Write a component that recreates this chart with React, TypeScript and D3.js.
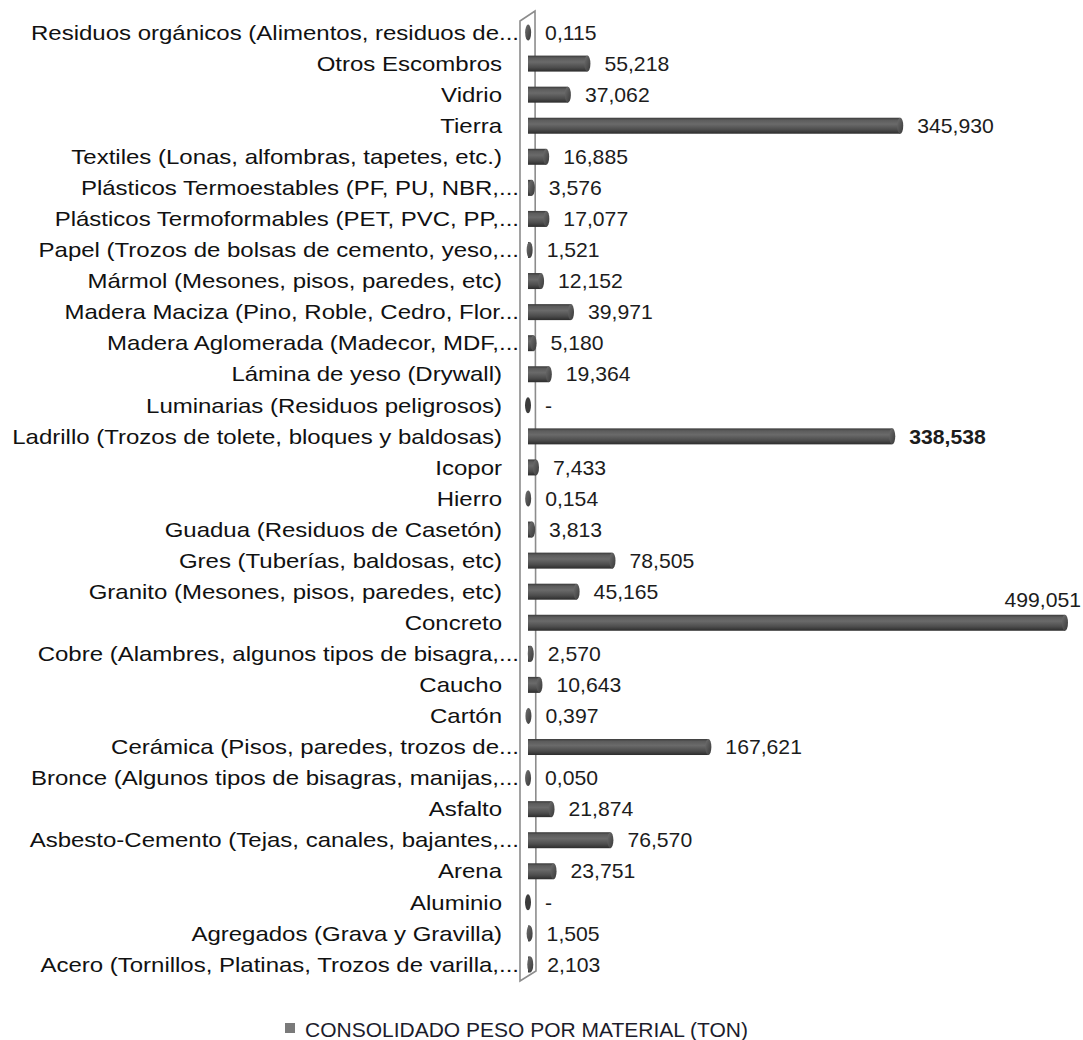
import * as d3 from "d3";

const categories = [
  "Residuos orgánicos (Alimentos, residuos de...",
  "Otros Escombros",
  "Vidrio",
  "Tierra",
  "Textiles (Lonas, alfombras, tapetes, etc.)",
  "Plásticos Termoestables (PF, PU, NBR,...",
  "Plásticos Termoformables (PET, PVC, PP,...",
  "Papel (Trozos de bolsas de cemento, yeso,...",
  "Mármol (Mesones, pisos, paredes, etc)",
  "Madera Maciza (Pino, Roble, Cedro, Flor...",
  "Madera Aglomerada (Madecor, MDF,...",
  "Lámina de yeso (Drywall)",
  "Luminarias (Residuos peligrosos)",
  "Ladrillo (Trozos de tolete, bloques y baldosas)",
  "Icopor",
  "Hierro",
  "Guadua (Residuos de Casetón)",
  "Gres (Tuberías, baldosas, etc)",
  "Granito (Mesones, pisos, paredes, etc)",
  "Concreto",
  "Cobre (Alambres, algunos tipos de bisagra,...",
  "Caucho",
  "Cartón",
  "Cerámica (Pisos, paredes, trozos de...",
  "Bronce (Algunos tipos de bisagras, manijas,...",
  "Asfalto",
  "Asbesto-Cemento (Tejas, canales, bajantes,...",
  "Arena",
  "Aluminio",
  "Agregados (Grava y Gravilla)",
  "Acero (Tornillos, Platinas, Trozos de varilla,...",
];

const values = [
  0.115, 55.218, 37.062, 345.93, 16.885, 3.576, 17.077, 1.521, 12.152, 39.971,
  5.18, 19.364, 0, 338.538, 7.433, 0.154, 3.813, 78.505, 45.165, 499.051, 2.57,
  10.643, 0.397, 167.621, 0.05, 21.874, 76.57, 23.751, 0, 1.505, 2.103,
];

const boldLabels = ["Ladrillo (Trozos de tolete, bloques y baldosas)"];
const seriesName = "CONSOLIDADO PESO POR MATERIAL (TON)";

const W = 1083;
const H = 1040;
// the source picture is stretched sideways, labels more than numbers
const LABEL_SX = 1.2;
const VALUE_SX = 1.06;
const FONT = "Arial, 'Liberation Sans', sans-serif";

const fmt = (v: number) =>
  v === 0
    ? "-"
    : d3.format(",.3f")(v).replace(".", "#").replace(/,/g, ".").replace("#", ",");

export default function App() {
  const y = d3
    .scaleBand<string>()
    .domain(categories)
    .range([17, 980])
    .paddingInner(0);
  const x = d3.scaleLinear().domain([0, 500]).range([528, 1066]);

  const barH = 16;
  const capRx = 3;

  return (
    <svg
      width={W}
      height={H}
      style={{ position: "absolute", left: 0, top: 0, background: "#fff" }}
      fontFamily={FONT}
    >
      <defs>
        <linearGradient id="cyl" x1="0" y1="0" x2="0" y2="1">
          <stop offset="0%" stopColor="#3a3a3a" />
          <stop offset="15%" stopColor="#5c5c5c" />
          <stop offset="40%" stopColor="#6a6a6a" />
          <stop offset="75%" stopColor="#4c4c4c" />
          <stop offset="100%" stopColor="#2c2c2c" />
        </linearGradient>
        <linearGradient id="cap" x1="0" y1="0" x2="1" y2="1">
          <stop offset="0%" stopColor="#707070" />
          <stop offset="100%" stopColor="#383838" />
        </linearGradient>
      </defs>

      {/* axis wall */}
      <polygon
        points="520,21 535,11 536,971 520,981"
        fill="#fff"
        stroke="#8c8c8c"
        strokeWidth={1.6}
      />

      {categories.map((c, i) => {
        const v = values[i];
        const cy = (y(c) as number) + y.bandwidth() / 2;
        const x0 = x(0);
        const x1 = x(v);
        const truncated = c.endsWith("...");
        const isBold = boldLabels.includes(c);
        const endX = x1 + capRx;
        const overflow = endX + 14 + 70 > W;
        const lx = overflow ? W - 2 : endX + 14;
        const ly = overflow ? cy - 23 : cy;
        return (
          <g key={c}>
            <g
              transform={`translate(${truncated ? 519 : 502},${cy}) scale(${LABEL_SX},1)`}
            >
              <text
                x={0}
                y={0}
                dy="0.36em"
                textAnchor="end"
                fontSize={20}
                fill="#111"
              >
                {c}
              </text>
            </g>
            {v > 0 && (
              <rect
                x={x0}
                y={cy - barH / 2}
                width={Math.max(0, x1 - x0)}
                height={barH}
                fill="url(#cyl)"
              />
            )}
            <ellipse
              cx={v > 0 ? x1 : x0}
              cy={cy}
              rx={capRx}
              ry={barH / 2}
              fill={v > 0 ? "url(#cap)" : "#3c3c3c"}
            />
            <g transform={`translate(${lx},${ly}) scale(${VALUE_SX},1)`}>
              <text
                x={0}
                y={0}
                dy="0.36em"
                textAnchor={overflow ? "end" : "start"}
                fontSize={20}
                fontWeight={isBold ? "bold" : "normal"}
                fill="#1c1c1c"
              >
                {fmt(v)}
              </text>
            </g>
          </g>
        );
      })}

      {/* legend */}
      <rect x={285} y={1023} width={10} height={10} fill="#7a7a7a" />
      <text x={305} y={1029} dy="0.36em" fontSize={21} fill="#1c1c2c">
        {seriesName}
      </text>
    </svg>
  );
}
